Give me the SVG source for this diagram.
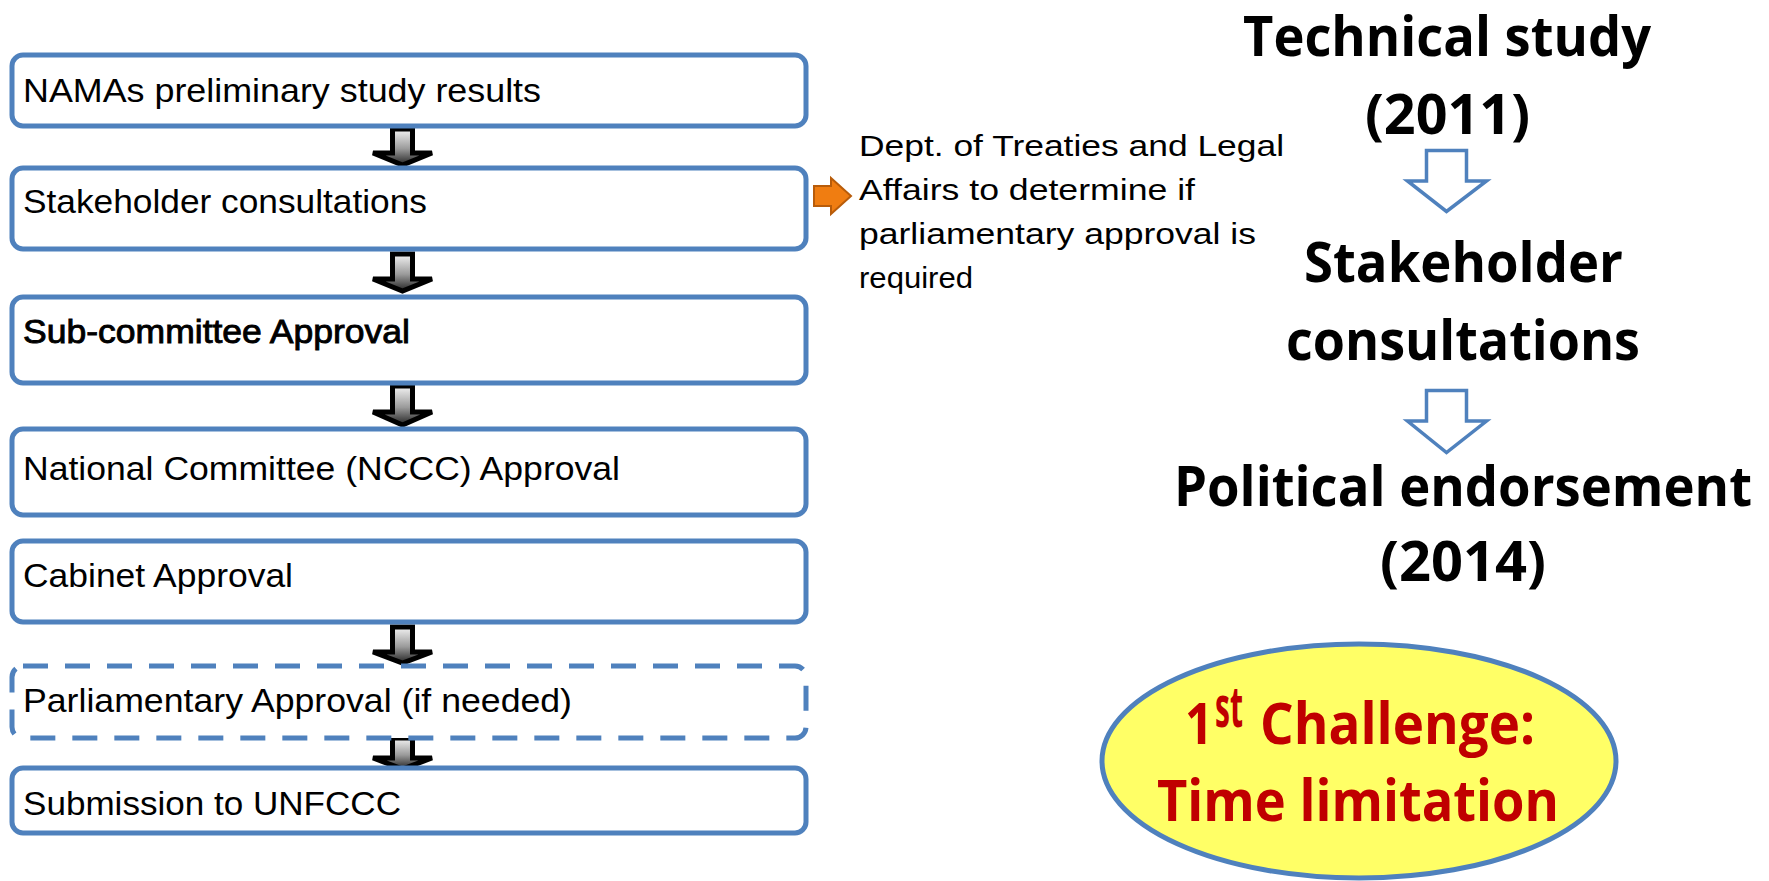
<svg xmlns="http://www.w3.org/2000/svg" width="1769" height="881" viewBox="0 0 1769 881">
<defs>
<linearGradient id="g" x1="0" y1="0" x2="0" y2="1">
<stop offset="0" stop-color="#f4f4f4"/>
<stop offset="0.55" stop-color="#9a9a9a"/>
<stop offset="1" stop-color="#222"/>
</linearGradient>
<style>
.box{fill:#fff;stroke:#4F81BD;stroke-width:5}
.dash{stroke-dasharray:25 17}
.lt{font-family:"Liberation Sans",Arial,sans-serif;font-size:34px;fill:#000}
.dt{font-family:"Liberation Sans",Arial,sans-serif;font-size:29px;fill:#000}
.rt{font-family:"Open Sans","Noto Sans",sans-serif;font-weight:bold;font-size:55px;fill:#000}
.red{font-family:"Open Sans","Noto Sans",sans-serif;font-weight:bold;font-size:57px;fill:#C00000}
.blk{fill:url(#g);stroke:#000;stroke-width:5;stroke-linejoin:miter}
.hol{fill:#fff;stroke:#4F81BD;stroke-width:3.5}
</style>
</defs>
<rect width="1769" height="881" fill="#fff"/>

<g id="connectors">
<path class="blk" d="M392.5,129 H412.5 V153 H432 L402.5,165 L373,153 H392.5 Z"/>
<path class="blk" d="M392.5,254 H412.5 V279 H432 L402.5,291 L373,279 H392.5 Z"/>
<path class="blk" d="M392.5,386 H412.5 V412 H432 L402.5,425 L373,412 H392.5 Z"/>
<path class="blk" d="M392.5,627 H412.5 V652 H432 L402.5,663 L373,652 H392.5 Z"/>
<path class="blk" d="M392.5,738 H412.5 V758 H432 L402.5,769 L373,758 H392.5 Z"/>
<path d="M814,186 H831 V178 L851,196 L831,214 V206 H814 Z" fill="#F07D11" stroke="#B85C0A" stroke-width="2"/>
<path class="hol" d="M1426.5,150.5 H1466.5 V181 H1486.5 L1446.5,211.5 L1407.5,181 H1426.5 Z"/>
<path class="hol" d="M1426.5,390.5 H1466.5 V421 H1486.5 L1446.5,452.5 L1407.5,421 H1426.5 Z"/>
</g>

<g id="n1">
<rect class="box" x="12" y="55" width="794" height="71" rx="11"/>
<text class="lt" x="23" y="102" textLength="518" lengthAdjust="spacingAndGlyphs">NAMAs preliminary study results</text>
</g>
<g id="n2">
<rect class="box" x="12" y="168" width="794" height="81" rx="11"/>
<text class="lt" x="23" y="213" textLength="404" lengthAdjust="spacingAndGlyphs">Stakeholder consultations</text>
</g>
<g id="n3">
<rect class="box" x="12" y="297" width="794" height="86" rx="11"/>
<text class="lt" x="23" y="343" textLength="387" lengthAdjust="spacingAndGlyphs" stroke="#000" stroke-width="0.9">Sub-committee Approval</text>
</g>
<g id="n4">
<rect class="box" x="12" y="429" width="794" height="86" rx="11"/>
<text class="lt" x="23" y="480" textLength="597" lengthAdjust="spacingAndGlyphs">National Committee (NCCC) Approval</text>
</g>
<g id="n5">
<rect class="box" x="12" y="541" width="794" height="81" rx="11"/>
<text class="lt" x="23" y="587" textLength="270" lengthAdjust="spacingAndGlyphs">Cabinet Approval</text>
</g>
<g id="n6">
<rect class="box dash" x="12" y="666" width="794" height="72" rx="11"/>
<text class="lt" x="23" y="712" textLength="549" lengthAdjust="spacingAndGlyphs">Parliamentary Approval (if needed)</text>
</g>
<g id="n7">
<rect class="box" x="12" y="768" width="794" height="65" rx="11"/>
<text class="lt" x="23" y="815" textLength="378" lengthAdjust="spacingAndGlyphs">Submission to UNFCCC</text>
</g>

<g id="note">
<text class="dt" x="859" y="156" textLength="425" lengthAdjust="spacingAndGlyphs">Dept. of Treaties and Legal</text>
<text class="dt" x="859" y="200" textLength="336" lengthAdjust="spacingAndGlyphs">Affairs to determine if</text>
<text class="dt" x="859" y="244" textLength="397" lengthAdjust="spacingAndGlyphs">parliamentary approval is</text>
<text class="dt" x="859" y="288" textLength="114" lengthAdjust="spacingAndGlyphs">required</text>
</g>

<g id="r1">
<text class="rt" x="1243" y="56" textLength="408" lengthAdjust="spacingAndGlyphs">Technical study</text>
<text class="rt" x="1365" y="134" textLength="165" lengthAdjust="spacingAndGlyphs">(2011)</text>
</g>
<g id="r2">
<text class="rt" x="1304" y="282" textLength="319" lengthAdjust="spacingAndGlyphs">Stakeholder</text>
<text class="rt" x="1286" y="360" textLength="354" lengthAdjust="spacingAndGlyphs">consultations</text>
</g>
<g id="r3">
<text class="rt" x="1174" y="506" textLength="578" lengthAdjust="spacingAndGlyphs">Political endorsement</text>
<text class="rt" x="1380" y="581" textLength="166" lengthAdjust="spacingAndGlyphs">(2014)</text>
</g>
<g id="challenge">
<ellipse cx="1359" cy="761" rx="257" ry="117" fill="#FFFF66" stroke="#4F81BD" stroke-width="5"/>
<text class="red" x="1185" y="744" textLength="28" lengthAdjust="spacingAndGlyphs">1</text>
<text class="red" x="1215" y="727" font-size="29" textLength="28" lengthAdjust="spacingAndGlyphs">st</text>
<text class="red" x="1260" y="744" textLength="275" lengthAdjust="spacingAndGlyphs">Challenge:</text>
<text class="red" x="1157" y="821" textLength="402" lengthAdjust="spacingAndGlyphs">Time limitation</text>
</g>
</svg>
